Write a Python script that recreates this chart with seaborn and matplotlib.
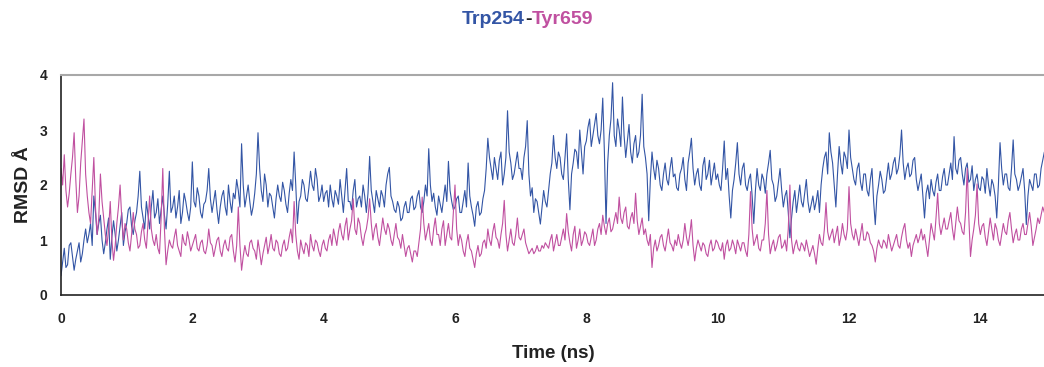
import numpy as np
import pandas as pd
import matplotlib
matplotlib.use("Agg")
import matplotlib.pyplot as plt
import seaborn as sns

# time in ns (sampled every 0.025 ns)
time_ns = np.round(np.arange(0, 15, 0.025), 3)

# RMSD (Angstrom) of Trp254 (one row per ns)
trp254 = [
    0.35,0.6, 0.85,0.5, 0.55,0.9, 0.95,0.7, 0.45,0.65, 0.8,0.95, 0.6,0.75, 1.0,1.2, 0.95,1.1, 1.3,0.9, 1.8,1.5, 1.1,1.3, 1.45,1.0, 0.75,0.95, 1.2,1.4, 0.65,1.05, 1.35,1.1, 0.8,1.0, 1.25,1.5, 0.9,1.15,
    1.3,1.55, 1.6,1.25, 1.1,1.35, 1.5,1.8, 2.25,1.6, 1.4,1.2, 1.7,1.45, 1.2,1.6, 1.9,1.4, 1.5,1.75, 1.3,1.55, 1.8,1.45, 1.2,1.65, 2.25,1.5, 1.6,1.8, 1.4,1.6, 1.9,1.3, 1.5,1.85, 1.7,1.5, 1.35,1.6,
    2.42,1.7, 1.6,1.95, 1.8,1.5, 1.4,1.65, 1.7,1.9, 2.3,1.75, 1.5,1.7, 1.9,1.55, 1.3,1.6, 1.8,1.9, 1.6,1.45, 2.0,1.7, 1.5,1.85, 1.75,2.1, 1.9,1.6, 2.75,2.0, 1.6,1.8, 2.0,1.7, 1.45,1.6, 1.85,2.2,
    2.95,2.3, 1.9,1.7, 2.2,2.0, 1.6,1.85, 1.8,1.6, 1.4,1.75, 2.0,1.8, 1.7,2.05, 1.9,1.65, 1.5,1.85, 2.1,1.9, 2.6,2.0, 1.3,1.7, 1.8,2.1, 2.0,1.75, 1.7,1.95, 2.25,2.0, 1.9,2.3, 2.1,1.7, 1.8,2.0,
    1.7,1.85, 1.9,1.6, 2.0,1.75, 1.6,1.9, 1.8,1.65, 2.1,1.8, 1.5,1.9, 2.3,1.7, 1.7,1.55, 1.9,2.1, 1.6,1.75, 1.8,1.6, 2.0,1.8, 1.5,1.85, 2.52,1.9, 1.7,1.5, 1.9,1.75, 1.6,1.9, 1.8,1.6, 2.0,2.2,
    2.32,1.8, 1.7,1.55, 1.5,1.7, 1.6,1.35, 1.4,1.6, 1.7,1.5, 1.5,1.75, 1.8,1.55, 1.6,1.8, 1.9,1.6, 1.5,1.7, 2.0,1.8, 2.66,2.0, 1.7,1.85, 1.6,1.45, 1.8,1.65, 1.5,1.75, 2.0,1.7, 2.43,1.9, 1.7,1.55,
    1.6,1.75, 1.8,1.5, 1.5,1.7, 1.9,1.6, 2.4,1.8, 1.6,1.45, 1.25,1.6, 1.7,1.45, 1.5,1.75, 1.9,2.3, 2.85,2.5, 2.3,2.1, 2.5,2.3, 2.1,2.45, 2.6,2.0, 2.2,2.5, 3.35,2.6, 2.4,2.1, 2.2,2.4, 2.6,2.3,
    2.3,2.1, 2.5,2.7, 3.17,2.2, 1.8,1.95, 1.5,1.75, 1.7,1.5, 1.29,1.6, 1.9,1.7, 1.6,1.9, 2.2,2.4, 2.9,2.5, 2.3,2.6, 2.5,2.2, 2.1,2.5, 2.93,2.1, 1.55,2.2, 2.4,2.65, 2.6,2.3, 3.0,2.6, 2.2,2.7,
    2.8,3.05, 3.2,2.7, 2.9,3.1, 3.3,2.9, 2.75,3.0, 3.58,2.6, 1.3,2.4, 2.9,3.2, 3.86,2.9, 2.7,3.2, 3.0,2.7, 3.6,2.9, 2.5,2.8, 3.1,2.6, 2.4,2.75, 2.9,2.5, 2.6,2.9, 3.65,2.7, 2.5,2.2, 1.35,2.1,
    2.6,2.3, 2.1,2.45, 2.3,2.0, 1.9,2.2, 2.4,2.1, 2.0,2.3, 2.5,2.15, 2.2,1.95, 1.9,2.2, 2.3,2.5, 2.1,1.9, 2.4,2.6, 2.85,2.3, 2.0,2.2, 2.3,2.0, 1.9,2.35, 2.5,2.1, 2.2,2.45, 2.0,2.2, 2.4,2.1,
    2.2,2.0, 1.9,2.3, 2.8,2.1, 2.3,1.8, 1.4,1.9, 2.1,2.4, 2.77,2.2, 2.0,2.3, 2.4,2.0, 1.9,2.1, 2.2,1.8, 1.3,1.9, 2.3,2.0, 1.9,2.2, 2.1,1.85, 2.2,2.4, 2.63,2.1, 2.0,1.7, 1.8,2.05, 2.3,1.9,
    1.6,1.8, 1.9,1.5, 1.04,1.4, 1.7,1.9, 1.5,1.75, 2.0,1.7, 1.6,1.85, 2.1,1.7, 1.5,1.65, 1.8,1.55, 1.7,1.9, 1.5,2.0, 2.3,2.5, 2.6,2.2, 2.95,2.6, 2.4,2.0, 1.6,2.2, 2.7,2.4, 2.2,2.6, 2.5,2.3,
    3.0,2.5, 2.3,2.1, 2.0,2.3, 2.4,2.05, 1.9,2.2, 2.2,1.9, 1.8,2.1, 2.3,1.7, 1.28,1.8, 2.0,2.25, 2.1,1.85, 1.9,2.15, 2.4,2.1, 2.2,2.4, 2.5,2.2, 2.3,2.55, 3.0,2.4, 2.1,2.3, 2.4,2.15, 2.2,2.45,
    2.5,2.1, 1.9,2.05, 2.2,1.8, 1.4,1.85, 2.0,1.75, 2.1,1.9, 1.8,2.05, 2.2,1.9, 1.9,2.15, 2.3,2.0, 2.0,2.2, 2.4,2.1, 2.88,2.3, 2.2,2.45, 2.5,2.2, 2.0,2.3, 2.4,2.05, 2.1,2.35, 1.9,2.1, 2.2,1.95,
    1.9,2.15, 2.1,1.85, 2.3,2.0, 1.8,2.1, 2.0,1.8, 1.4,2.0, 2.77,2.3, 2.0,2.2, 2.2,1.95, 1.9,2.3, 2.82,2.2, 2.1,1.9, 2.0,2.15, 2.3,1.9, 1.28,1.8, 2.1,2.0, 1.9,2.2, 2.2,1.95, 2.0,2.3, 2.45,2.6,
]

# RMSD (Angstrom) of Tyr659 (one row per ns)
tyr659 = [
    2.3,2.0, 2.55,1.9, 1.6,1.85, 2.2,2.5, 2.95,2.1, 1.5,1.8, 2.4,2.8, 3.2,2.2, 1.8,1.5, 1.3,1.9, 2.5,1.6, 1.1,1.4, 2.2,1.7, 1.4,1.1, 0.9,1.2, 1.7,1.0, 0.63,0.9, 1.3,1.6, 2.0,1.4, 1.0,1.3,
    1.2,0.95, 0.8,1.1, 1.5,1.2, 1.1,0.85, 0.9,1.15, 1.3,1.0, 0.85,1.3, 1.8,1.2, 1.0,0.9, 1.1,0.85, 0.75,1.4, 2.3,1.2, 0.55,0.8, 1.0,0.9, 0.85,1.05, 1.2,0.9, 0.8,0.7, 1.1,0.95, 0.9,1.15, 1.0,0.8,
    0.9,1.0, 1.1,0.85, 0.8,0.95, 1.0,0.8, 0.75,0.9, 1.2,0.95, 0.9,0.7, 0.85,1.0, 1.05,0.8, 0.7,0.9, 1.0,0.85, 0.8,1.05, 1.1,0.8, 0.6,0.9, 1.6,0.9, 0.45,0.7, 0.9,0.75, 0.7,0.95, 1.0,0.85, 0.8,0.65,
    1.0,0.8, 0.55,0.75, 0.9,1.05, 0.75,0.9, 1.1,0.85, 0.8,1.0, 0.95,0.75, 0.7,0.9, 1.0,0.8, 0.85,1.05, 1.2,0.95, 1.7,1.1, 0.8,0.65, 1.0,0.85, 0.75,0.95, 0.9,0.7, 1.1,0.9, 0.8,1.0, 0.95,0.8, 0.7,0.9,
    1.0,0.85, 0.8,1.0, 1.1,0.9, 1.2,1.05, 0.9,1.15, 1.3,1.1, 1.0,1.25, 1.4,1.0, 1.2,1.35, 1.75,1.2, 1.1,1.4, 1.3,1.05, 0.9,1.1, 1.2,1.4, 1.75,1.3, 1.0,1.2, 1.3,1.05, 0.9,1.15, 1.4,1.2, 1.1,1.3,
    1.2,1.0, 0.9,1.1, 1.3,1.05, 1.0,0.85, 1.1,0.9, 0.7,0.85, 0.9,0.75, 0.6,0.8, 0.8,0.7, 0.95,1.2, 1.78,1.3, 1.0,1.15, 1.3,1.0, 0.9,1.2, 1.4,1.1, 1.1,0.9, 1.2,1.35, 0.9,1.1, 1.3,1.05, 1.0,1.5,
    2.0,1.2, 0.9,1.1, 1.0,0.8, 0.7,0.95, 1.1,0.85, 0.8,0.65, 0.5,0.75, 0.9,0.7, 0.75,0.95, 1.0,0.85, 1.2,1.0, 0.9,1.15, 1.3,1.05, 1.0,0.85, 1.1,1.3, 1.72,1.1, 0.8,1.0, 1.2,0.95, 0.9,1.1, 1.4,1.05,
    1.0,1.1, 1.2,0.95, 0.85,0.75, 0.8,0.85, 0.75,0.8, 0.9,0.8, 0.8,0.9, 0.85,0.95, 0.9,0.85, 1.0,1.1, 0.8,0.95, 1.1,0.9, 0.9,1.05, 1.2,1.0, 1.48,1.15, 0.95,0.8, 1.1,1.25, 0.85,1.0, 1.2,0.9, 1.0,1.15,
    1.1,0.95, 0.9,1.05, 1.2,0.9, 1.0,1.2, 1.3,1.1, 1.45,1.25, 1.1,1.3, 1.4,1.15, 1.2,1.35, 1.5,1.3, 1.78,1.4, 1.3,1.5, 1.6,1.25, 1.2,1.4, 1.5,1.3, 1.85,1.35, 1.1,1.25, 1.4,1.1, 1.2,1.0, 0.9,1.1,
    0.5,0.85, 1.0,0.8, 0.9,1.05, 1.1,0.9, 0.8,1.0, 1.2,0.95, 0.9,0.8, 1.0,0.9, 1.1,0.95, 0.85,1.0, 1.3,1.05, 0.9,1.1, 1.37,0.9, 0.62,0.85, 1.0,0.9, 0.8,0.95, 0.9,0.75, 0.7,0.9, 1.0,0.8, 0.85,1.0,
    0.95,0.85, 0.8,0.95, 0.65,0.9, 1.0,0.8, 0.85,1.0, 0.9,0.75, 1.0,0.9, 0.8,0.95, 0.95,0.8, 0.7,1.1, 1.88,1.2, 0.9,1.0, 1.1,0.85, 0.8,1.0, 1.0,1.3, 1.9,1.1, 0.75,0.9, 1.0,0.8, 0.9,1.05, 1.1,0.85,
    0.9,1.0, 0.8,1.2, 2.0,1.0, 0.75,0.9, 1.0,0.85, 0.8,0.95, 0.9,0.8, 1.0,0.85, 0.7,0.8, 0.9,0.75, 0.56,0.85, 1.1,0.95, 0.9,1.2, 1.68,1.15, 1.0,1.1, 1.2,0.95, 1.1,1.25, 0.9,1.05, 1.3,1.1, 1.0,1.2,
    1.97,1.3, 1.1,1.0, 1.2,1.05, 0.9,1.1, 1.3,1.0, 1.0,1.15, 1.1,0.95, 0.9,0.8, 0.6,0.85, 1.0,0.9, 0.85,1.0, 0.95,0.85, 1.1,0.95, 0.8,0.9, 1.0,1.1, 0.9,0.85, 1.05,1.2, 1.3,1.0, 0.85,0.95, 0.7,0.9,
    1.0,1.1, 0.95,1.05, 1.2,1.0, 1.1,0.9, 0.7,1.0, 1.3,1.15, 1.0,1.4, 1.85,1.3, 1.1,1.25, 1.4,1.2, 1.2,1.35, 1.5,1.2, 1.0,1.3, 1.6,1.35, 1.3,1.15, 1.1,1.5, 2.3,1.4, 0.7,1.0, 1.2,1.45, 2.02,1.3,
    1.1,1.25, 1.3,1.05, 0.9,1.15, 1.4,1.2, 1.0,1.3, 1.2,1.0, 0.9,1.1, 1.3,1.15, 1.1,1.35, 1.5,1.2, 0.95,1.1, 1.2,1.0, 1.0,1.2, 1.3,1.1, 1.1,1.3, 1.5,1.25, 0.9,1.05, 1.2,1.4, 1.3,1.45, 1.6,1.5,
]

x_ticks = [0, 2, 4, 6, 8, 10, 12, 14]
y_ticks = [0, 1, 2, 3, 4]
series_names = ["Trp254", "Tyr659"]
BLUE = "#3355a5"
PINK = "#c050a0"

df = pd.concat([
    pd.DataFrame({"Time (ns)": time_ns, "RMSD": trp254, "pair": series_names[0]}),
    pd.DataFrame({"Time (ns)": time_ns, "RMSD": tyr659, "pair": series_names[1]}),
])

sns.set_style("white")
plt.rcParams["font.family"] = ["Liberation Sans", "DejaVu Sans"]
plt.rcParams["font.weight"] = "bold"

fig = plt.figure(figsize=(10.44, 3.67), dpi=100)
ax = fig.add_axes([61 / 1044, 1 - 295 / 367, (1046 - 61) / 1044, (295 - 75) / 367])

sns.lineplot(data=df, x="Time (ns)", y="RMSD", hue="pair",
             palette={series_names[0]: BLUE, series_names[1]: PINK},
             linewidth=0.8, ax=ax, legend=False, estimator=None, sort=False)

ax.set_xlim(0, 15)
ax.set_ylim(0, 4)
ax.set_xticks(x_ticks)
ax.set_yticks(y_ticks)
ax.set_xticklabels([str(t) for t in x_ticks], fontsize=10, fontweight="bold", color="#222222")
ax.set_yticklabels([str(t) for t in y_ticks], fontsize=10, fontweight="bold", color="#222222")
ax.tick_params(axis="both", direction="out", length=4, width=1, color="#333333", pad=6)
ax.tick_params(axis="x", pad=8)

for s in ["left", "bottom"]:
    ax.spines[s].set_color("#222222")
    ax.spines[s].set_linewidth(1.2)
ax.spines["top"].set_color("#a8a8a8")
ax.spines["top"].set_linewidth(1.5)
ax.spines["right"].set_visible(False)
ax.grid(False)

ax.set_xlabel("Time (ns)", fontsize=13.5, fontweight="bold", color="#222222", labelpad=14)
ax.set_ylabel("RMSD Å", fontsize=14, fontweight="bold", color="#222222", labelpad=5.5)

# multi-coloured title
mid = fig.text(528 / 1044, 1 - 20 / 367, "-", ha="center", va="center",
               fontsize=14, fontweight="bold", color="#222222")
ax.annotate("Trp254", xy=(0, 0.5), xycoords=mid, ha="right", va="center",
            fontsize=14, fontweight="bold", color=BLUE, annotation_clip=False)
ax.annotate("Tyr659", xy=(1, 0.5), xycoords=mid, ha="left", va="center",
            fontsize=14, fontweight="bold", color=PINK, annotation_clip=False)

fig.savefig("out.png", dpi=100)
